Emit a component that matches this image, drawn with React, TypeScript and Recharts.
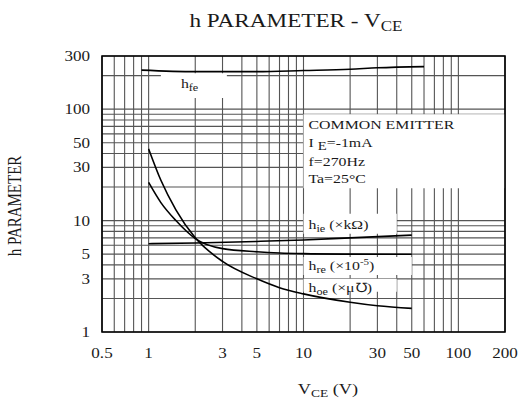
import { CartesianGrid, Line, LineChart, ReferenceArea, XAxis, YAxis } from "recharts"

// axis grid + labels
const gridX = [0.5, 0.6, 0.7, 0.8, 0.9, 1, 2, 3, 4, 5, 6, 7, 8, 9, 10, 20, 30, 40, 50, 60, 70, 80, 90, 100, 200]
const xLabels = [0.5, 1, 3, 5, 10, 30, 50, 100, 200]
const gridY = [1, 2, 3, 4, 5, 6, 7, 8, 9, 10, 20, 30, 40, 50, 60, 70, 80, 90, 100, 200, 300]
const yLabels = [1, 3, 5, 10, 30, 50, 100, 300]

// curves, VCE (V) -> value
const hfeV = [0.9, 2, 5, 10, 20, 30, 60]
const hfe = [224, 217, 217, 222, 228, 235, 241]

const hieV = [1, 2, 5, 10, 20, 50]
const hie = [6.2, 6.3, 6.5, 6.7, 7.0, 7.4]

const hreV = [1, 1.2, 1.5, 2, 3, 5, 7, 10, 20, 50]
const hre = [22, 14.5, 10, 6.9, 5.6, 5.25, 5.12, 5.05, 5.0, 4.98]

const hoeV = [1, 1.2, 1.5, 2, 3, 5, 7, 10, 20, 30, 50]
const hoe = [44, 23, 12.5, 7.0, 4.3, 3.0, 2.5, 2.2, 1.85, 1.72, 1.63]

const rows = (xs: number[], ys: number[]) => xs.map((x, i) => ({ x, y: ys[i] }))

const FONT = "'Liberation Serif', 'Times New Roman', serif"
const SX = 1.22

function T({ x, y, size = 14, anchor = "start", rotate = 0, children }: any) {
  return (
    <text
      transform={`translate(${x} ${y}) rotate(${rotate}) scale(${rotate ? 1 : SX} ${rotate ? SX : 1})`}
      textAnchor={anchor}
      fontSize={size}
      fontFamily={FONT}
      fill="#1a1a1a"
    >
      {children}
    </text>
  )
}

function XTick({ x, y, payload }: any) {
  if (!xLabels.includes(payload.value)) return null
  return <T x={x} y={y + 18} anchor="middle">{payload.value}</T>
}

function YTick({ x, y, payload }: any) {
  if (!yLabels.includes(payload.value)) return null
  return <T x={x - 4} y={y + 5} anchor="end">{payload.value}</T>
}

function BoxText({ viewBox, dx = 5, lines }: any) {
  if (!viewBox) return null
  return (
    <g>
      {lines.map((l: any, i: number) => (
        <T key={i} x={viewBox.x + dx} y={viewBox.y + l.dy} size={13}>
          {l.text}
        </T>
      ))}
    </g>
  )
}

const sub = (s: string) => (
  <tspan fontSize={10} dy={3}>
    {s}
  </tspan>
)

export default function App() {
  return (
    <div style={{ position: "absolute", left: 0, top: 0, background: "#fff" }}>
      <LineChart width={521} height={403} margin={{ top: 56, right: 16, left: 42, bottom: 41 }}>
        <CartesianGrid stroke="#555" strokeWidth={1.1} />
        <XAxis
          dataKey="x"
          type="number"
          scale="log"
          domain={[0.5, 200]}
          allowDataOverflow
          ticks={gridX}
          interval={0}
          axisLine={false}
          tickLine={false}
          height={30}
          tick={<XTick />}
        />
        <YAxis
          type="number"
          scale="log"
          domain={[1, 300]}
          allowDataOverflow
          ticks={gridY}
          interval={0}
          axisLine={false}
          tickLine={false}
          width={60}
          tick={<YTick />}
        />

        <ReferenceArea
          x1={1.2}
          x2={3.2}
          y1={126}
          y2={210}
          fill="#fff"
          fillOpacity={1}
          stroke="none"
          label={<BoxText dx={20} lines={[{ dy: 15, text: <>h{sub("fe")}</> }]} />}
        />
        <ReferenceArea
          x1={10}
          x2={200}
          y1={19.5}
          y2={90}
          fill="#fff"
          fillOpacity={1}
          stroke="none"
          label={
            <BoxText
              lines={[
                { dy: 15, text: "COMMON EMITTER" },
                {
                  dy: 33,
                  text: (
                    <>
                      I{" "}
                      <tspan fontSize={12} dy={3}>
                        E
                      </tspan>
                      <tspan dy={-3}>=-1mA</tspan>
                    </>
                  ),
                },
                { dy: 52, text: "f=270Hz" },
                { dy: 69, text: "Ta=25\u00b0C" },
              ]}
            />
          }
        />
        <ReferenceArea
          x1={10}
          x2={40}
          y1={7.6}
          y2={11.5}
          fill="#fff"
          fillOpacity={1}
          stroke="none"
          label={
            <BoxText
              lines={[
                {
                  dy: 15,
                  text: (
                    <>
                      h{sub("ie")}
                      <tspan dy={-3}>{"  (\u00d7k\u03a9)"}</tspan>
                    </>
                  ),
                },
              ]}
            />
          }
        />
        <ReferenceArea
          x1={10}
          x2={50}
          y1={3.25}
          y2={4.7}
          fill="#fff"
          fillOpacity={1}
          stroke="none"
          label={
            <BoxText
              lines={[
                {
                  dy: 13,
                  text: (
                    <>
                      h{sub("re")}
                      <tspan dy={-3}>{" (\u00d710"}</tspan>
                      <tspan fontSize={9} dy={-5}>
                        -5
                      </tspan>
                      <tspan dy={5}>)</tspan>
                    </>
                  ),
                },
              ]}
            />
          }
        />
        <ReferenceArea
          x1={10}
          x2={40}
          y1={2.3}
          y2={3.0}
          fill="#fff"
          fillOpacity={1}
          stroke="none"
          label={
            <BoxText
              lines={[
                {
                  dy: 13,
                  text: (
                    <>
                      h{sub("oe")}
                      <tspan dy={-3}>{" (\u00d7\u03bc\u2127)"}</tspan>
                    </>
                  ),
                },
              ]}
            />
          }
        />

        <Line data={rows(hfeV, hfe)} dataKey="y" type="monotone" stroke="#000" strokeWidth={1.6} dot={false} isAnimationActive={false} />
        <Line data={rows(hieV, hie)} dataKey="y" type="monotone" stroke="#000" strokeWidth={1.6} dot={false} isAnimationActive={false} />
        <Line data={rows(hreV, hre)} dataKey="y" type="monotone" stroke="#000" strokeWidth={1.6} dot={false} isAnimationActive={false} />
        <Line data={rows(hoeV, hoe)} dataKey="y" type="monotone" stroke="#000" strokeWidth={1.6} dot={false} isAnimationActive={false} />

        <ReferenceArea x1={0.5} x2={200} y1={1} y2={300} fill="none" stroke="#000" strokeWidth={1.6} />

        <T x={296} y={27} size={19} anchor="middle">
          h PARAMETER - V
          <tspan fontSize={14} dy={4}>
            CE
          </tspan>
        </T>
        <T x={328} y={394} size={15} anchor="middle">
          V
          <tspan fontSize={11} dy={3}>
            CE
          </tspan>
          <tspan dy={-3}>{"   (V)"}</tspan>
        </T>
        <T x={21} y={206} size={15} anchor="middle" rotate={-90}>
          h PARAMETER
        </T>
      </LineChart>
    </div>
  )
}
